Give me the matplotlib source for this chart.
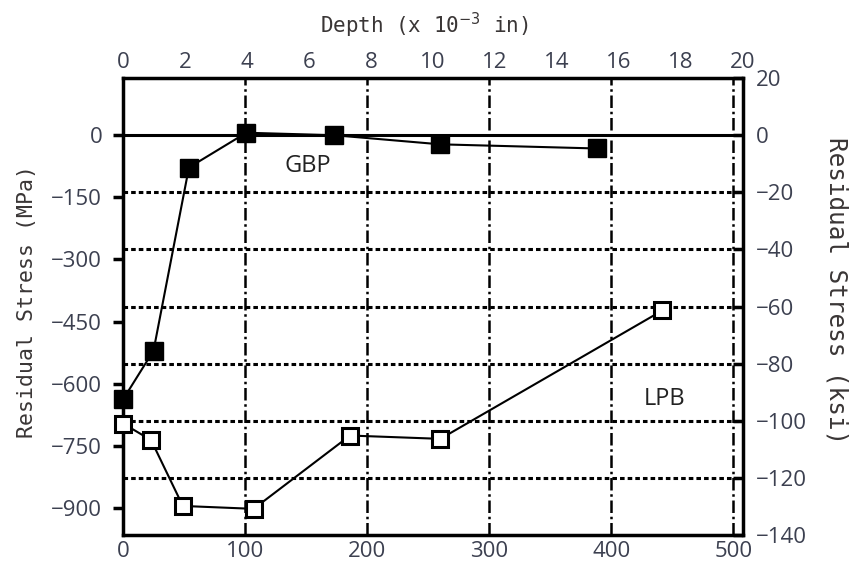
import numpy as np
import matplotlib.pyplot as plt

plt.rcParams['axes.unicode_minus'] = True
plt.rcParams['font.family'] = ['Open Sans', 'DejaVu Sans']

# === DATA ===
# depth in micrometres, stress in MPa
gbp_depth = [0, 25, 54, 101, 173, 260, 388]
gbp_stress = [-638, -520, -78, 6, 0, -22, -32]

lpb_depth = [0, 23, 49, 107, 186, 260, 442]
lpb_stress = [-696, -736, -895, -902, -725, -733, -423]

mpa_ticks = [0, -150, -300, -450, -600, -750, -900]
ksi_ticks = [20, 0, -20, -40, -60, -80, -100, -120, -140]
um_ticks = [0, 100, 200, 300, 400, 500]
mil_ticks = list(range(0, 21, 2))

KSI = 6.894757
UM_PER_MIL = 25.4
txt_col = '#3c4050'
lab_col = '#3a3636'

fig = plt.figure(figsize=(8.52, 5.68), dpi=100)
ax = fig.add_axes([0.1444, 0.058, 0.7277, 0.8045])

ax.set_xlim(0, 20 * UM_PER_MIL)
ax.set_ylim(-140 * KSI, 20 * KSI)

# grid: vertical at depth ticks, horizontal at ksi ticks
for x in um_ticks[1:]:
    ax.axvline(x, color='black', lw=1.8, ls=(0, (5, 1.5, 1, 1.5)), zorder=1)
for k in ksi_ticks[2:-1]:
    ax.axhline(k * KSI, color='black', lw=2.2, ls=(0, (1.5, 1)), zorder=1)
ax.axhline(0, color='black', lw=2.2, zorder=1)

ax.plot(gbp_depth, gbp_stress, color='black', lw=1.5, marker='s', ms=13,
        mfc='black', mec='black', zorder=3, clip_on=False)
ax.plot(lpb_depth, lpb_stress, color='black', lw=1.5, marker='s', ms=12,
        mfc='white', mec='black', mew=2.2, zorder=3, clip_on=False)

ax.text(151, -75, 'GBP', fontsize=17, color='#222222', ha='center', va='center')
ax.text(444, -638, 'LPB', fontsize=17, color='#222222', ha='center', va='center')

for s in ax.spines.values():
    s.set_linewidth(2.5)

ax.set_xticks(um_ticks)
ax.set_yticks(mpa_ticks)
ax.tick_params(axis='y', direction='out', length=7, width=2.5, labelsize=16,
               labelcolor=txt_col, pad=8)
ax.tick_params(axis='x', direction='in', length=0, labelsize=16,
               labelcolor=txt_col, pad=4)

# right axis in ksi
ay = ax.secondary_yaxis('right', functions=(lambda v: v / KSI, lambda v: v * KSI))
ay.set_yticks(ksi_ticks)
ay.tick_params(direction='in', length=7, width=2.5, labelsize=16,
               labelcolor=txt_col, pad=9)

# top axis in thousandths of an inch
axt = ax.secondary_xaxis('top', functions=(lambda v: v / UM_PER_MIL,
                                           lambda v: v * UM_PER_MIL))
axt.set_xticks(mil_ticks)
axt.tick_params(direction='in', length=0, labelsize=16, labelcolor=txt_col, pad=4)

# axis titles
fig.text(27 / 852, 1 - 302 / 568, 'Residual Stress (MPa)', family='DejaVu Sans Mono',
         fontsize=15.5, color=lab_col, rotation=90, ha='center', va='center')
fig.text(836 / 852, 1 - 291 / 568, 'Residual Stress (ksi)', family='DejaVu Sans Mono',
         fontsize=17.5, color=lab_col, rotation=270, ha='center', va='center')
fig.text(424 / 852, 1 - 25 / 568, 'Depth (x 10$^{-3}$ in)', family='DejaVu Sans Mono',
         fontsize=15, color=lab_col, ha='center', va='center')

fig.savefig('out.png', dpi=100)
